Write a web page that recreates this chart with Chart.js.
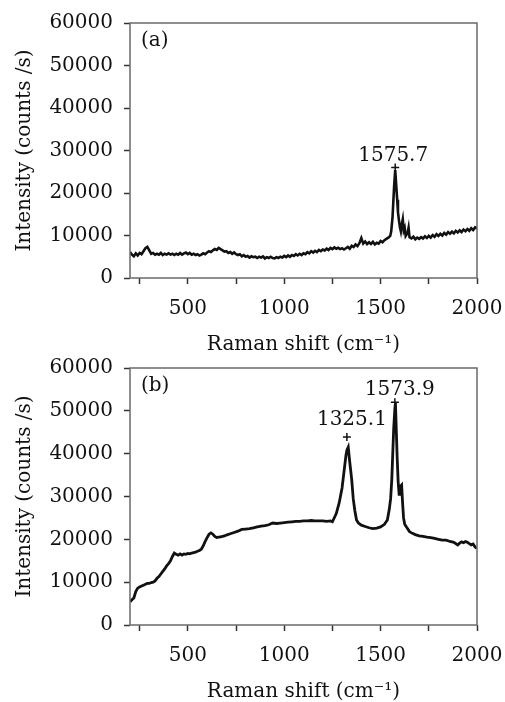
<!DOCTYPE html>
<html>
<head>
<meta charset="utf-8">
<title>Raman spectra</title>
<script src="https://cdn.jsdelivr.net/npm/chart.js@4/dist/chart.umd.min.js"></script>
<style>
  body { margin: 0; background: #fff; overflow: hidden; }
  #wrap { position: relative; width: 505px; height: 702px; }
  #wrap canvas { position: absolute; left: 0; }
  #chartA { top: 0; }
  #chartB { top: 340px; }
</style>
</head>
<body>
<div id="wrap">
  <canvas id="chartA" width="505" height="360"></canvas>
  <canvas id="chartB" width="505" height="362"></canvas>
</div>
<script>
// 轴刻度
const xTickValues = [250, 500, 750, 1000, 1250, 1500, 1750, 2000];
const xLabelStep = 500;
const yLabelStep = 10000;

// (a) 光谱
const shiftA = [
  200, 210, 220, 230, 240, 250, 260, 270, 280, 290,
  300, 310, 320, 330, 340, 350, 360, 370, 380, 390,
  400, 410, 420, 430, 440, 450, 460, 470, 480, 490,
  500, 510, 520, 530, 540, 550, 560, 570, 580, 590,
  600, 610, 620, 630, 640, 650, 660, 670, 680, 690,
  700, 710, 720, 730, 740, 750, 760, 770, 780, 790,
  800, 810, 820, 830, 840, 850, 860, 870, 880, 890,
  900, 910, 920, 930, 940, 950, 960, 970, 980, 990,
  1000, 1010, 1020, 1030, 1040, 1050, 1060, 1070, 1080, 1090,
  1100, 1110, 1120, 1130, 1140, 1150, 1160, 1170, 1180, 1190,
  1200, 1210, 1220, 1230, 1240, 1250, 1260, 1270, 1280, 1290,
  1300, 1310, 1320, 1330, 1340, 1350, 1360, 1370, 1380, 1390,
  1400, 1410, 1420, 1430, 1440, 1450, 1460, 1470, 1480, 1490,
  1500, 1510, 1520, 1530, 1540,
  1550, 1555, 1562, 1566, 1570, 1575.7, 1580, 1586, 1590, 1595,
  1600, 1605, 1610, 1615, 1620, 1625, 1630, 1640, 1645, 1650,
  1660, 1670, 1680, 1690,
  1700, 1710, 1720, 1730, 1740, 1750, 1760, 1770, 1780, 1790,
  1800, 1810, 1820, 1830, 1840, 1850, 1860, 1870, 1880, 1890,
  1900, 1910, 1920, 1930, 1940, 1950, 1960, 1970, 1980, 1990,
  2000
];
const intensityA = [
  6100, 5500, 5100, 5800, 5300, 5900, 5600, 6300, 7000, 7300,
  6500, 5700, 5900, 5500, 5700, 5500, 5900, 5400, 5700, 5500,
  5800, 5500, 5700, 5400, 5700, 5500, 5900, 5500, 5800, 6000,
  5600, 5900, 5500, 5700, 5400, 5600, 5300, 5500, 5800, 5600,
  6000, 6300, 6100, 6500, 6800, 6600, 7100, 6800, 6500, 6200,
  6300, 5900, 6100, 5700, 6000, 5600, 5400, 5600, 5100, 5400,
  5000, 5200, 4800, 5100, 4900, 5000, 4700, 5000, 4800, 5100,
  4600, 4900, 4700, 5000, 4700, 4600, 4900, 4700, 5000, 4800,
  5200, 4900, 5300, 5000, 5400, 5200, 5600, 5300, 5700, 5400,
  5800, 5600, 6100, 5800, 6300, 6000, 6400, 6100, 6600, 6300,
  6700, 6500, 6900, 6600, 7100, 6800, 7200, 6900, 7100, 6800,
  7000, 6700, 7000, 7300, 6900, 7600, 7300, 7900, 7500, 8200,
  9400, 8100, 8600, 8000, 8400, 8000, 8500, 7900, 8300, 8100,
  8700, 8400, 8900, 9200, 9500,
  9900, 11000, 14400, 18000, 21500, 25400, 22500, 18400, 15500, 13600,
  12000, 11000, 12600, 13800, 11200, 11800, 9900, 10600, 11800, 9600,
  9300, 9700, 9100, 9500,
  9200, 9600, 9300, 9800, 9400, 9900, 9500, 10100, 9700, 10300,
  9900, 10400, 10000, 10600, 10200, 10800, 10400, 10900, 10500, 11100,
  10700, 11200, 10800, 11400, 11000, 11500, 11100, 11700, 11300, 11900,
  11700
];
const peakShiftA = [1575.7];
const peakMarkA = [26000];
const peakTextA = ['1575.7'];

// (b) 光谱
const shiftB = [
  200, 210, 220, 230, 240, 250, 260, 270, 280, 290,
  300, 310, 320, 330, 340, 350, 360, 370, 380, 390,
  400, 410, 420, 430, 440, 450, 460, 470, 480, 490,
  500, 510, 520, 530, 540, 550, 560, 570, 580, 590,
  600, 610, 620, 630, 640, 650, 660, 670, 680, 690,
  700, 720, 740, 760, 780, 800, 820, 840, 860, 880,
  900, 920, 940, 960, 980, 1000, 1020, 1040, 1060, 1080,
  1100, 1120, 1140, 1160, 1180, 1200, 1220, 1240,
  1250, 1270, 1285, 1300, 1312, 1320, 1325.1, 1332, 1340, 1350,
  1358, 1366, 1375, 1385, 1400, 1420, 1440, 1460, 1480, 1500,
  1520, 1535, 1545, 1552, 1558, 1563, 1568, 1573.9, 1577, 1581,
  1586, 1591, 1596, 1600, 1605, 1609, 1614, 1619, 1625, 1635,
  1650, 1665, 1680, 1700, 1720, 1740, 1760, 1780, 1800, 1820,
  1840, 1860, 1880, 1900, 1910, 1920, 1930, 1940, 1950, 1960,
  1970, 1980, 1990, 2000
];
const intensityB = [
  5400, 5900, 6300, 7800, 8600, 8900, 9100, 9300, 9500, 9700,
  9700, 9900, 10000, 10300, 10900, 11300, 11900, 12500, 13100, 13800,
  14300, 15000, 16000, 16800, 16500, 16300, 16600, 16300, 16600, 16500,
  16700, 16600, 16800, 16900, 17000, 17200, 17400, 17700, 18500, 19500,
  20400, 21200, 21500, 21200, 20700, 20400, 20500, 20600, 20700, 20800,
  21000, 21300, 21600, 21900, 22300, 22400, 22500, 22700, 22900, 23100,
  23200, 23400, 23800, 23700, 23800, 23900, 24000, 24100, 24200, 24200,
  24300, 24300, 24400, 24300, 24300, 24300, 24200, 24300,
  24100, 26000, 28500, 32000, 36500, 39500, 40800, 41500, 38000, 34000,
  29500, 26800, 24500, 23800, 23300, 23000, 22700, 22500, 22600, 22900,
  23500, 24500, 27000, 29500, 34000, 40000, 46000, 50500, 51800, 46000,
  39000, 33500, 30500, 31500, 32500, 32700, 28500, 25000, 23500, 22800,
  21800, 21400, 21100, 20800, 20700, 20500, 20400, 20200, 20000, 19800,
  19800, 19500, 19300, 18700, 19100, 19400, 19200, 19500, 19300, 19000,
  18700, 18900, 18200, 17900
];
const peakShiftB = [1325.1, 1573.9];
const peakMarkB = [43900, 52000];
const peakTextB = ['1325.1', '1573.9'];

const FONT = "'DejaVu Serif', 'Liberation Serif', serif";
const INK = '#111';

const toPoints = (xs, ys) => xs.map((v, i) => ({ x: v, y: ys[i] }));

// 画外框、(a)/(b) 标记和峰值文字
const framePlugin = {
  id: 'frameNotes',
  afterDatasetsDraw(chart, args, opts) {
    const { ctx, chartArea: a, scales: { x, y } } = chart;
    ctx.save();
    ctx.strokeStyle = '#6a6a6a';
    ctx.lineWidth = 1.5;
    ctx.strokeRect(a.left, a.top, a.right - a.left, a.bottom - a.top);
    ctx.fillStyle = INK;
    ctx.font = '20px ' + FONT;
    ctx.textAlign = 'left';
    ctx.textBaseline = 'top';
    ctx.fillText(opts.tag, a.left + 11, a.top + 8);
    ctx.textAlign = 'center';
    ctx.textBaseline = 'alphabetic';
    opts.peaks.forEach(p => {
      ctx.fillText(p.text, x.getPixelForValue(p.x) + p.dx, y.getPixelForValue(p.y) - p.dy);
    });
    ctx.restore();
  }
};

function makePanel(id, tag, xs, ys, peakX, peakY, peakText, offsets, pad, lineW) {
  const tickFont = { family: FONT, size: 20 };
  const grid = { drawOnChartArea: false, tickLength: 6, tickColor: '#333', tickWidth: 1.5 };
  return new Chart(document.getElementById(id), {
    type: 'line',
    data: {
      datasets: [
        {
          data: toPoints(xs, ys),
          borderColor: INK,
          borderWidth: lineW,
          pointRadius: 0,
          tension: 0,
          fill: false
        },
        {
          data: toPoints(peakX, peakY),
          showLine: false,
          pointStyle: 'cross',
          pointRadius: 4,
          borderColor: INK,
          borderWidth: 1.5
        }
      ]
    },
    options: {
      responsive: false,
      animation: false,
      events: [],
      layout: { padding: pad },
      plugins: {
        legend: { display: false },
        tooltip: { enabled: false },
        frameNotes: {
          tag,
          peaks: peakX.map((v, i) => ({ x: v, y: peakY[i], text: peakText[i], dx: offsets[i][0], dy: offsets[i][1] }))
        }
      },
      scales: {
        x: {
          type: 'linear',
          min: 200,
          max: 2000,
          afterBuildTicks: s => { s.ticks = xTickValues.map(v => ({ value: v })); },
          afterFit: s => { s.height = 77; s.paddingLeft = 0; s.paddingRight = 0; },
          border: { display: false },
          grid,
          ticks: {
            autoSkip: false,
            maxRotation: 0,
            padding: 13,
            color: INK,
            font: tickFont,
            callback: v => (v % xLabelStep === 0 ? String(v) : '')
          },
          title: {
            display: true,
            text: 'Raman shift (cm⁻¹)',
            color: INK,
            font: { family: FONT, size: 20, lineHeight: 1 },
            padding: { top: 0, bottom: 0 }
          }
        },
        y: {
          min: 0,
          max: 60000,
          afterFit: s => { s.width = 130; },
          border: { display: false },
          grid,
          ticks: {
            stepSize: 5000,
            padding: 11,
            color: INK,
            font: tickFont,
            callback: v => (v % yLabelStep === 0 ? String(v) : '')
          },
          title: {
            display: true,
            text: 'Intensity (counts /s)',
            color: INK,
            font: tickFont,
            padding: { top: 13, bottom: 0 }
          }
        }
      }
    },
    plugins: [framePlugin]
  });
}

makePanel('chartA', '(a)', shiftA, intensityA, peakShiftA, peakMarkA, peakTextA,
  [[-2, 7]], { top: 23, right: 28, bottom: 5, left: 0 }, 2.6);
makePanel('chartB', '(b)', shiftB, intensityB, peakShiftB, peakMarkB, peakTextB,
  [[5, 12], [5, 7]], { top: 28, right: 28, bottom: 0, left: 0 }, 2.8);
</script>
</body>
</html>
